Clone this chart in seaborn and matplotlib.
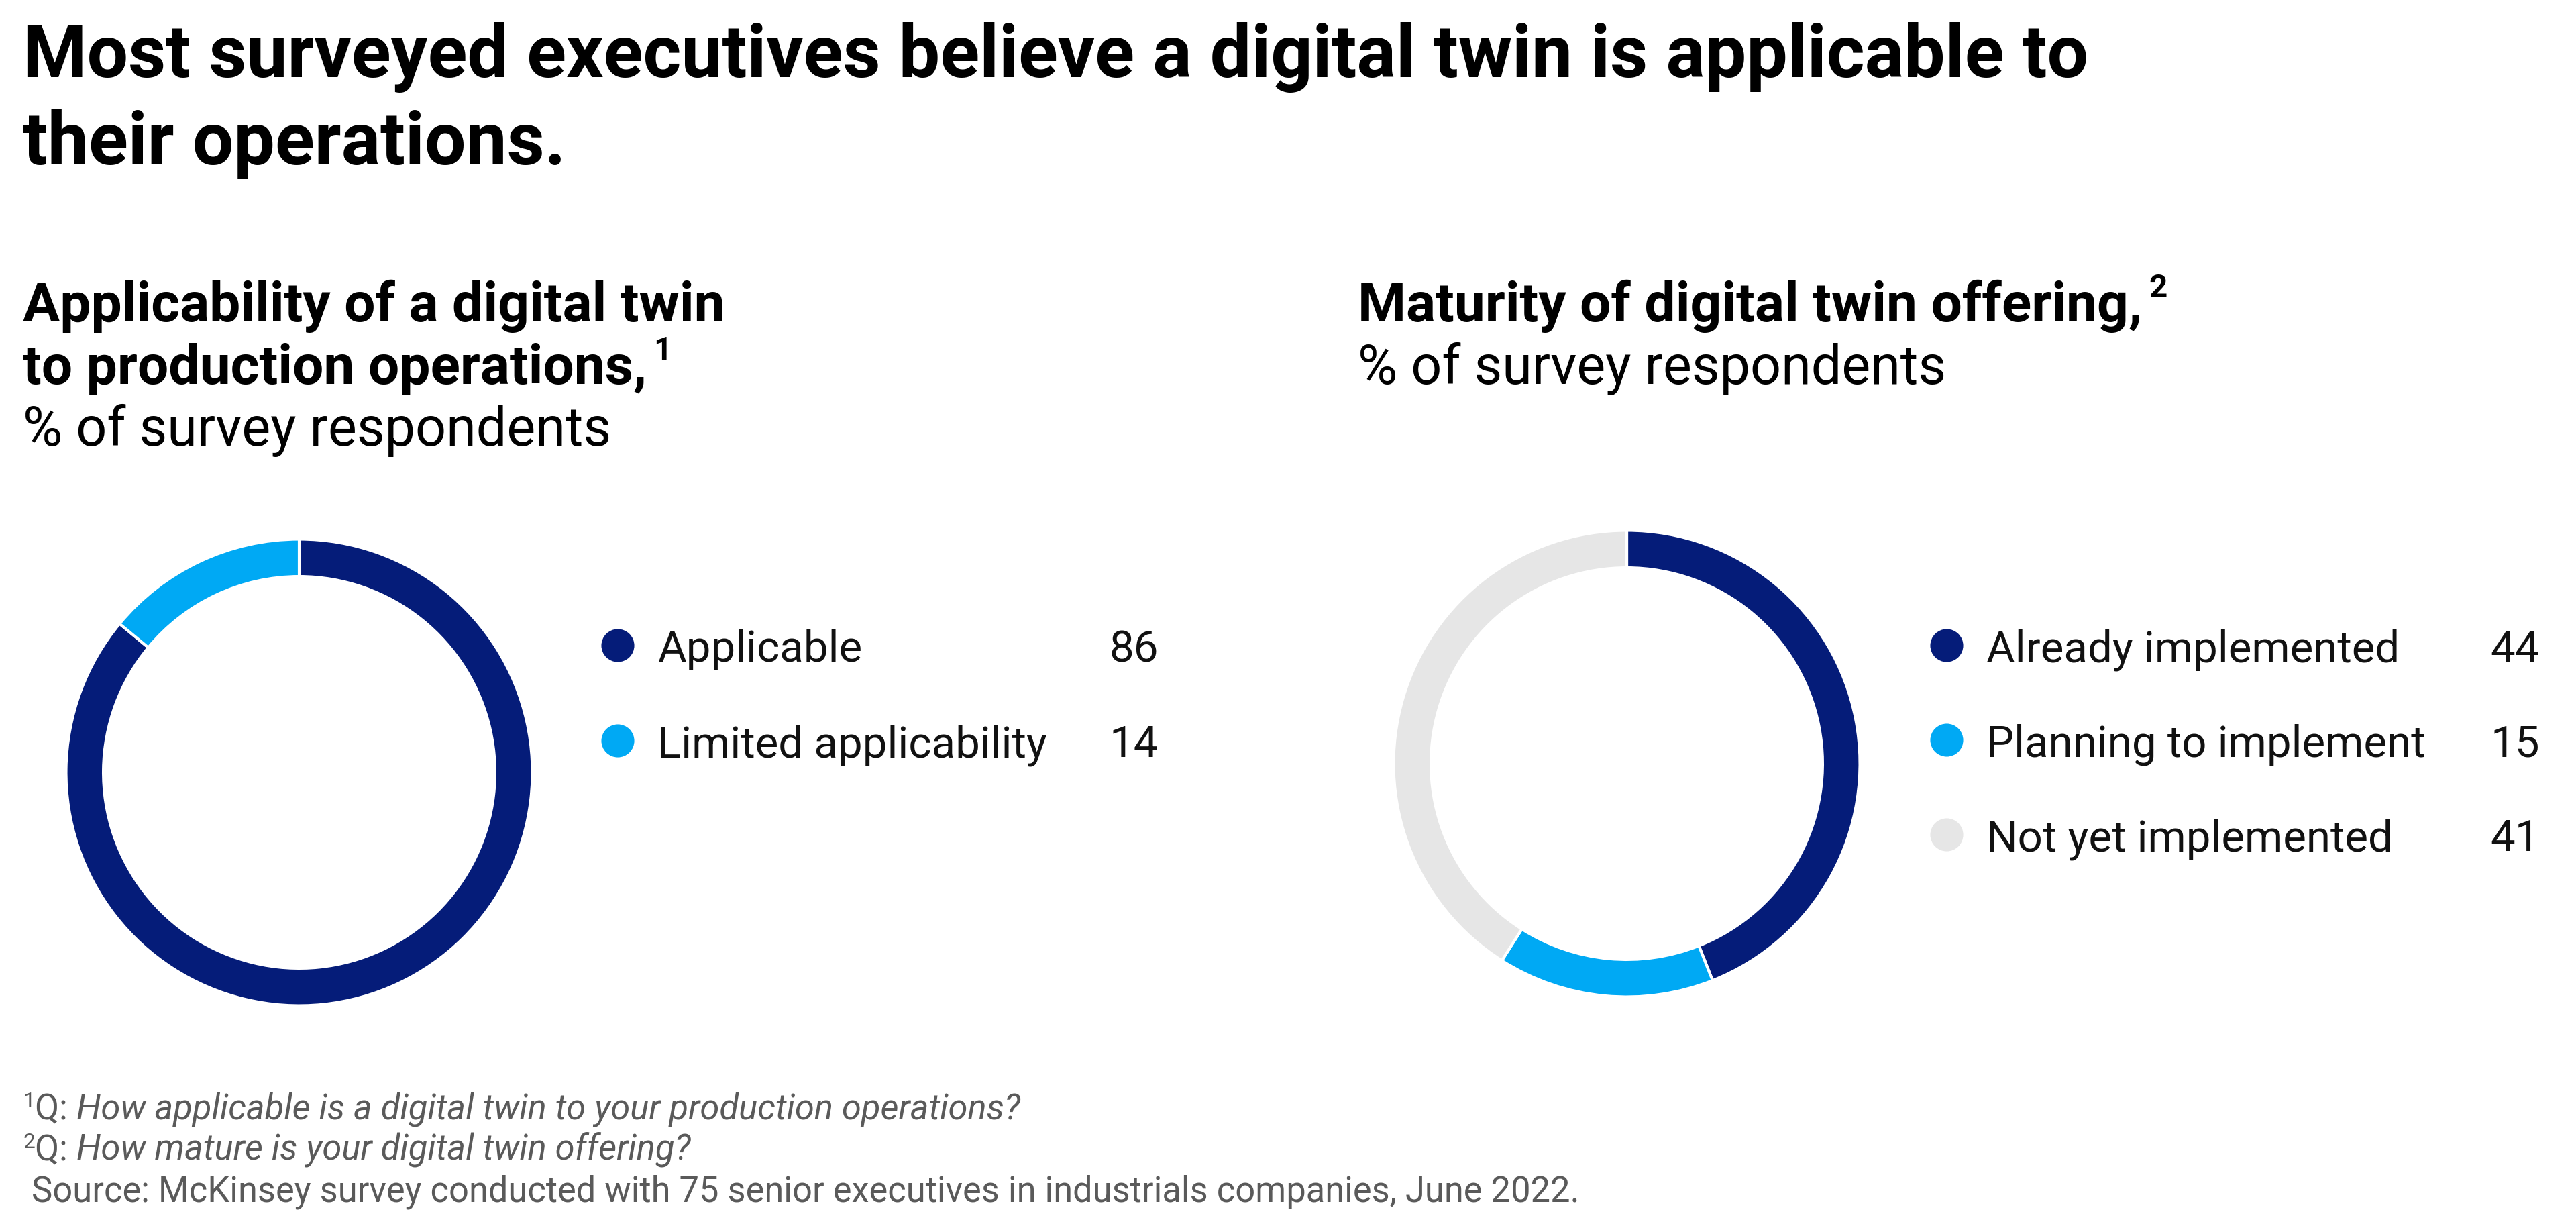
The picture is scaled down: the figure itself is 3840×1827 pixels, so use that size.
import matplotlib
matplotlib.use("Agg")
import matplotlib.pyplot as plt
import seaborn as sns
import pandas as pd

# data
title_lines = ["Most surveyed executives believe a digital twin is applicable to",
               "their operations."]

apply_labels = ["Applicable", "Limited applicability"]
apply_values = [86, 14]
apply_colors = ["#051c79", "#00a9f4"]

maturity_labels = ["Already implemented", "Planning to implement", "Not yet implemented"]
maturity_values = [44, 15, 41]
maturity_colors = ["#051c79", "#00a9f4", "#e6e6e6"]

footnotes = [
    ("1", "Q: ", "How applicable is a digital twin to your production operations?"),
    ("2", "Q: ", "How mature is your digital twin offering?"),
]
source = " Source: McKinsey survey conducted with 75 senior executives in industrials companies, June 2022."

sns.set_theme(style="white")
plt.rcParams["font.family"] = ["Roboto", "DejaVu Sans"]

W, H = 3840, 1827
fig = plt.figure(figsize=(W / 100, H / 100), dpi=100)
fig.patch.set_facecolor("white")
renderer = fig.canvas.get_renderer()


def fx(x):
    return x / W


def fy(y):
    return 1 - y / H


def width_of(t):
    return t.get_window_extent(renderer=renderer).width


def put(x, y, s, size, weight="normal", style="normal", color="black", ha="left", fit=None):
    t = fig.text(fx(x), fy(y), s, fontsize=size, fontweight=weight, fontstyle=style,
                 color=color, ha=ha, va="baseline")
    if fit is not None:
        t.set_fontsize(size * fit / width_of(t))
    return t


def put_chunks(x, y, chunks):
    # chunks: (text, size, weight, style, color, rise)
    for s, size, weight, style, color, rise in chunks:
        t = put(x, y - rise, s, size, weight, style, color)
        x += width_of(t)


# title
t = put(34, 115, title_lines[0], 60, weight="bold", fit=3081)
tsize = t.get_fontsize()
put(34, 245, title_lines[1], tsize, weight="bold")

# panel headers
h = put(34, 479, "Applicability of a digital twin", 40, weight="bold", fit=1046)
hsize = h.get_fontsize()
s2 = put(34, 572, "to production operations,", hsize, weight="bold")
put(34 + width_of(s2) + 10, 536, "1", hsize * 0.58, weight="bold")
r = put(34, 664, "% of survey respondents", 40, fit=877)
rsize = r.get_fontsize()

m = put(2024, 479, "Maturity of digital twin offering,", hsize, weight="bold")
put(2024 + width_of(m) + 10, 443, "2", hsize * 0.58, weight="bold")
put(2024, 572, "% of survey respondents", rsize)


def donut(cx, cy, rad, values, colors):
    ax = fig.add_axes([fx(cx - rad), fy(cy + rad), 2 * rad / W, 2 * rad / H])
    ax.pie(values, colors=colors, startangle=90, counterclock=False, radius=1,
           wedgeprops=dict(width=0.16, edgecolor="white", linewidth=3))
    ax.set_xlim(-1.01, 1.01)
    ax.set_ylim(-1.01, 1.01)
    ax.axis("off")


def legend(x0, x1, y0, step, labels, values, colors, size):
    n = len(labels)
    top = y0 - step / 2
    ax = fig.add_axes([fx(x0), fy(top + step * n), (x1 - x0) / W, step * n / H])
    df = pd.DataFrame({"x": [0.0] * n, "y": list(range(n)), "label": labels})
    sns.scatterplot(data=df, x="x", y="y", hue="label", palette=colors, s=1250,
                    linewidth=0, legend=False, ax=ax, clip_on=False)
    ax.set_xlim(0, 1)
    ax.set_ylim(n - 0.5, -0.5)
    ax.axis("off")
    for i, (lab, val) in enumerate(zip(labels, values)):
        ax.text(59 / (x1 - x0), i, lab, fontsize=size, color="#111111", va="center_baseline")
        ax.text(1, i, str(val), fontsize=size, color="#111111", va="center_baseline", ha="right")


donut(446, 1151, 351, apply_values, apply_colors)
donut(2425, 1138, 351, maturity_values, maturity_colors)

probe = put(0, -100, "Limited applicability", 30, fit=580)
lsize = probe.get_fontsize()
probe.remove()

legend(921, 1727, 962, 142, apply_labels, apply_values, apply_colors, lsize)
legend(2902, 3786, 962, 141, maturity_labels, maturity_values, maturity_colors, lsize)

# footnotes
probe = put(0, -100, source, 24, fit=2322)
fsize = probe.get_fontsize()
probe.remove()
grey = "#5a5a5a"
for i, (num, q, text) in enumerate(footnotes):
    y = 1668 + 61 * i
    put_chunks(34, y, [(num, fsize * 0.6, "normal", "normal", grey, 18),
                       (q, fsize, "normal", "normal", grey, 0),
                       (text, fsize, "normal", "italic", grey, 0)])
put(34, 1790, source, fsize, color=grey)

fig.savefig("out.png", dpi=100, facecolor="white")
